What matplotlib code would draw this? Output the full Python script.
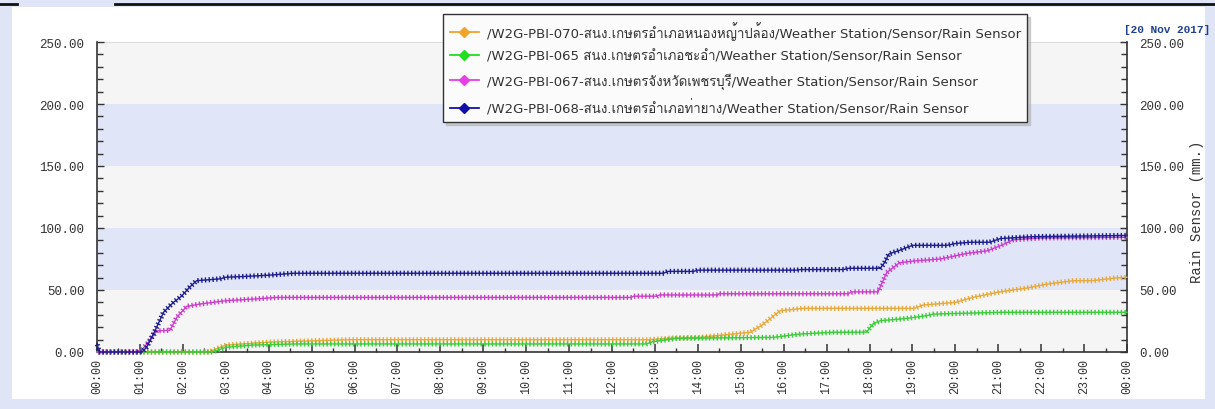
import matplotlib
matplotlib.use("Agg")
import matplotlib.pyplot as plt
import matplotlib.patheffects as pe
from matplotlib import font_manager
from matplotlib.ft2font import FT2Font
from matplotlib.lines import Line2D
from matplotlib.patches import Rectangle
from matplotlib.ticker import MultipleLocator

# ── Data (hours since midnight, cumulative rain mm) ──────────────────────────
t_070 = [0, 2.6, 3.0, 4.03, 5.9, 12.85, 13.43, 14.06, 14.45, 15.22, 15.5, 15.92,
         16.46, 19.05, 19.25, 20.0, 20.4, 21.05, 21.67, 22.14, 22.75, 23.2, 23.7, 24.0]
v_070 = [0, 0, 5.6, 8, 9.9, 9.9, 11.3, 11.8, 13.2, 15.9, 21.8, 33.3,
         35.2, 35.2, 37.9, 40, 44, 48.6, 51.6, 54.8, 57.5, 57.5, 59.6, 60.2]

t_065 = [0, 2.7, 3.0, 3.64, 4.63, 12.8, 12.95, 13.5, 15.76, 16.39, 17.16, 17.93,
         18.08, 18.25, 18.87, 19.33, 19.5, 21.05, 24.0]
v_065 = [0, 0, 3.8, 5.6, 6.5, 6.5, 8.3, 11, 11.8, 14.5, 15.9, 16,
         22.6, 25.2, 27.1, 29.3, 30.6, 32, 32]

t_067 = [0, 1.0, 1.2, 1.39, 1.7, 1.86, 2.09, 2.4, 3.02, 3.64, 4.19, 12.45, 12.5,
         13.05, 13.1, 14.45, 14.5, 17.5, 17.6, 18.2, 18.4, 18.7, 19.1, 19.65,
         20.27, 20.74, 21.05, 21.35, 22.0, 24.0]
v_067 = [0, 0, 8, 17, 17.5, 28, 36.8, 38.7, 41.4, 42.7, 44, 44, 45,
         45, 46, 46, 47, 47, 48.5, 48.5, 64, 72, 73.6, 75,
         79.5, 81.6, 85.7, 90.5, 92, 92.5]

t_068 = [0, 0.05, 1.05, 1.16, 1.35, 1.55, 1.78, 1.97, 2.15, 2.32, 2.87, 3.0, 3.49,
         4.03, 4.57, 13.2, 13.3, 13.9, 14.0, 16.3, 16.4, 17.4, 17.5, 18.25, 18.35,
         18.45, 18.7, 19.0, 19.8, 20.0, 20.35, 20.8, 21.05, 21.8, 24.0]
v_068 = [7, 0, 0, 4, 17, 32, 40, 45, 52, 57.5, 59, 60.3, 61,
         62, 63.5, 63.5, 65, 65, 66, 66, 66.5, 66.5, 67.5, 67.5, 72,
         79, 82, 86, 86, 87.5, 88.5, 88.5, 91.5, 93, 94]

labels = [
    "/W2G-PBI-070-สนง.เกษตรอำเภอหนองหญ้าปล้อง/Weather Station/Sensor/Rain Sensor",
    "/W2G-PBI-065 สนง.เกษตรอำเภอชะอำ/Weather Station/Sensor/Rain Sensor",
    "/W2G-PBI-067-สนง.เกษตรจังหวัดเพชรบุรี/Weather Station/Sensor/Rain Sensor",
    "/W2G-PBI-068-สนง.เกษตรอำเภอท่ายาง/Weather Station/Sensor/Rain Sensor",
]
hour_labels = ["00:00", "01:00", "02:00", "03:00", "04:00", "05:00", "06:00",
               "07:00", "08:00", "09:00", "10:00", "11:00", "12:00", "13:00",
               "14:00", "15:00", "16:00", "17:00", "18:00", "19:00", "20:00",
               "21:00", "22:00", "23:00", "00:00"]
y_labels = ["0.00", "50.00", "100.00", "150.00", "200.00", "250.00"]
date_text = "[20 Nov 2017]"

# ── Theme ─────────────────────────────────────────────────────────────────────
LINE_COLORS   = ["#e8aa3c", "#3ccc3c", "#cc3fcc", "#1e1e8c"]
MARKER_COLORS = ["#f2a42a", "#22dd22", "#e83ee8", "#1010a8"]
BAND_GREY, BAND_BLUE = "#f5f5f5", "#e0e5f8"
FRAME = "#dfe5f7"
MONO = "Liberation Mono"
TICK_TXT = "#333333"


def thai_family():
    for f in font_manager.fontManager.ttflist:
        try:
            if 0x0E01 in FT2Font(f.fname).get_charmap():
                return f.name
        except Exception:
            pass
    return None


th = thai_family()
legend_family = ["DejaVu Sans"] + ([th] if th else [])

W, H = 1215, 410
fig = plt.figure(figsize=(W / 100, H / 100), dpi=100, facecolor=FRAME)

# white panel + top rule with a little tab
fig.patches.append(Rectangle((12 / W, 1 - 400 / H), (1205 - 12) / W, (400 - 8) / H,
                             transform=fig.transFigure, facecolor="white",
                             edgecolor="none", zorder=-5))
fig.lines.append(Line2D([0, 17 / W], [1 - 5 / H] * 2, transform=fig.transFigure,
                        color="#111111", lw=2, zorder=-4))
fig.lines.append(Line2D([115 / W, 1], [1 - 5 / H] * 2, transform=fig.transFigure,
                        color="#111111", lw=2, zorder=-4))

ax = fig.add_axes([97 / W, 1 - 353 / H, (1127 - 97) / W, (353 - 43) / H])
ax.set_zorder(1)
ax.set_facecolor(BAND_GREY)
ax.set_xlim(0, 24)
ax.set_ylim(0, 250)
for lo in (50, 150):
    ax.axhspan(lo, lo + 50, color=BAND_BLUE, lw=0, zorder=0)
ax.axhline(250, color="#d6d6d6", lw=1.2, zorder=1)

series = [(t_070, v_070), (t_065, v_065), (t_067, v_067), (t_068, v_068)]
for (tt, vv), col in zip(series, LINE_COLORS):
    ax.plot(tt, vv, color=col, lw=1.0, zorder=3, clip_on=False,
            path_effects=[pe.TickedStroke(spacing=2.7, angle=90, length=0.5),
                          pe.TickedStroke(spacing=2.7, angle=-90, length=0.5),
                          pe.Normal()])

# axes / ticks
ax.spines["top"].set_visible(False)
for s in ("left", "right", "bottom"):
    ax.spines[s].set_color("#333333")
    ax.spines[s].set_linewidth(1.2)

ax.set_xticks(range(25))
ax.set_xticklabels(hour_labels, rotation=90, fontsize=8.5, family=MONO, color=TICK_TXT)
ax.xaxis.set_minor_locator(MultipleLocator(0.5))
ax.tick_params(axis="x", which="major", direction="in", length=6, width=1.1,
               color="#333", pad=4)
ax.tick_params(axis="x", which="minor", direction="in", length=3, width=1.0, color="#333")

ax.set_yticks([0, 50, 100, 150, 200, 250])
ax.set_yticklabels(y_labels, fontsize=9, family=MONO, color=TICK_TXT)
ax.yaxis.set_minor_locator(MultipleLocator(10))
ax.tick_params(axis="y", which="both", direction="in", left=True, right=True,
               labelleft=True, labelright=True, length=5, width=1.0, color="#333", pad=9)
ax.tick_params(axis="y", which="minor", length=4)

fig.text(1197 / W, 1 - 212 / H, "Rain Sensor (mm.)", rotation=90, ha="center",
         va="center", fontsize=10, family=MONO, color=TICK_TXT)
fig.text(1210 / W, 1 - 30 / H, date_text, ha="right", va="center", fontsize=8,
         family=MONO, fontweight="bold", color="#1f3f8f")

# legend
handles = [Line2D([], [], color=c, marker="D", markersize=5.5, lw=1.3,
                  markerfacecolor=c, markeredgecolor=c) for c in MARKER_COLORS]
leg = fig.legend(handles, labels, loc="upper left",
                 bbox_to_anchor=(443 / W, 1 - 15 / H), frameon=True,
                 fancybox=False, shadow={"color": "0.7", "alpha": 0.6},
                 framealpha=1, facecolor="#fbfbfb", edgecolor="#333333",
                 labelcolor="#333333",
                 prop={"family": legend_family, "size": 9.5},
                 labelspacing=0.74, handlelength=2.2, handletextpad=0.6,
                 borderpad=0.5, borderaxespad=0)
leg.set_zorder(10)
leg.get_frame().set_linewidth(1.0)

plt.savefig("out.png", dpi=100, facecolor=FRAME)
